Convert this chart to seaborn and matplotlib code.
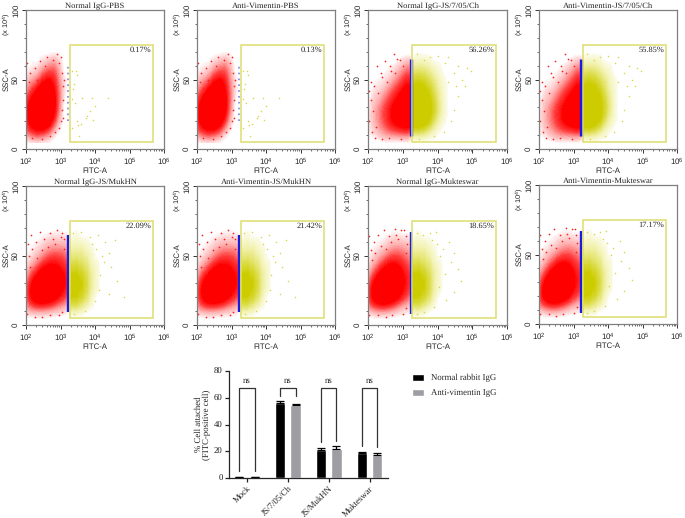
import numpy as np
import pandas as pd
import seaborn as sns
import matplotlib.pyplot as plt
from matplotlib.colors import LinearSegmentedColormap, BoundaryNorm
from matplotlib.contour import ContourSet
from matplotlib.patches import Rectangle
from matplotlib.ticker import FixedLocator, FixedFormatter, LogLocator, NullFormatter

W, H = 685, 518

titles = ['Normal IgG-PBS', 'Anti-Vimentin-PBS', 'Normal IgG-JS/7/05/Ch', 'Anti-Vimentin-JS/7/05/Ch',
          'Normal IgG-JS/MukHN', 'Anti-Vimentin-JS/MukHN', 'Normal IgG-Mukteswar', 'Anti-Vimentin-Mukteswar']
percents = ['0.17%', '0.13%', '56.26%', '55.85%', '22.09%', '21.42%', '18.65%', '17.17%']
groups = ['pbs', 'pbs', 'js7', 'js7', 'muk', 'muk', 'mukt', 'mukt']

ssc_rows = [10, 15, 20, 25, 30, 35, 40, 45, 50, 55, 60, 65]
red_cols = [2.05, 2.2, 2.35, 2.5, 2.65, 2.8, 2.95, 3.1, 3.2]
yellow_cols = [3.3, 3.45, 3.6, 3.75, 3.9, 4.05, 4.2, 4.35, 4.5]

red_pbs = [[3, 4, 5, 4, 3, 1, 0, 0, 0],
           [6, 9, 11, 10, 7, 3, 1, 0, 0],
           [9, 14, 20, 22, 15, 7, 2, 0, 0],
           [10, 16, 26, 30, 22, 10, 3, 0, 0],
           [10, 16, 26, 32, 26, 12, 4, 0, 0],
           [8, 12, 20, 26, 24, 12, 4, 0, 0],
           [5, 8, 13, 19, 20, 11, 4, 1, 0],
           [3, 5, 8, 12, 14, 9, 4, 1, 0],
           [2, 3, 4, 8, 10, 8, 3, 1, 0],
           [1, 1, 2, 4, 6, 6, 3, 0, 0],
           [0, 1, 1, 2, 3, 4, 2, 0, 0],
           [0, 0, 0, 1, 1, 2, 1, 0, 0]]
red_js7 = [[1, 1, 2, 3, 3, 3, 3, 3, 2],
           [1, 2, 4, 6, 9, 11, 13, 13, 10],
           [1, 3, 5, 9, 14, 20, 26, 28, 22],
           [1, 3, 6, 10, 16, 24, 32, 36, 30],
           [1, 3, 5, 9, 14, 22, 30, 36, 30],
           [1, 2, 3, 6, 10, 16, 24, 30, 26],
           [0, 2, 2, 4, 7, 11, 17, 22, 20],
           [0, 1, 1, 2, 4, 7, 11, 15, 14],
           [0, 1, 1, 1, 2, 4, 7, 10, 10],
           [0, 0, 0, 1, 1, 2, 4, 6, 6],
           [0, 0, 0, 0, 1, 1, 2, 3, 3],
           [0, 0, 0, 0, 0, 0, 1, 1, 1]]
red_muk = [[3, 4, 4, 4, 4, 3, 3, 2, 1],
           [7, 10, 12, 12, 11, 9, 7, 5, 3],
           [10, 16, 22, 24, 22, 18, 13, 9, 6],
           [10, 18, 26, 30, 28, 24, 18, 12, 8],
           [9, 15, 22, 28, 28, 24, 19, 13, 9],
           [6, 11, 16, 22, 24, 22, 18, 13, 9],
           [4, 7, 10, 15, 18, 18, 15, 11, 8],
           [2, 4, 6, 9, 12, 13, 12, 9, 6],
           [1, 2, 4, 6, 8, 9, 9, 7, 5],
           [1, 1, 2, 3, 5, 6, 6, 5, 3],
           [0, 1, 1, 2, 3, 3, 3, 3, 2],
           [0, 0, 0, 1, 1, 2, 2, 1, 1]]
red_mukt = [[3, 4, 5, 5, 4, 3, 2, 2, 1],
            [8, 11, 13, 13, 11, 9, 6, 4, 2],
            [11, 18, 24, 26, 22, 17, 12, 8, 5],
            [11, 20, 28, 32, 29, 23, 16, 10, 7],
            [9, 16, 24, 30, 29, 24, 17, 11, 8],
            [6, 11, 17, 24, 25, 22, 16, 11, 8],
            [4, 7, 11, 16, 19, 18, 14, 9, 7],
            [2, 4, 7, 10, 13, 13, 11, 8, 5],
            [1, 3, 4, 6, 8, 9, 8, 6, 4],
            [1, 1, 2, 3, 5, 6, 6, 4, 3],
            [0, 1, 1, 2, 3, 3, 3, 2, 2],
            [0, 0, 0, 1, 1, 2, 1, 1, 1]]
yellow_js7 = [[2, 2, 2, 1, 1, 0, 0, 0, 0],
              [10, 10, 8, 5, 2, 1, 0, 0, 0],
              [24, 24, 20, 12, 5, 2, 1, 0, 0],
              [34, 34, 28, 17, 8, 3, 1, 0, 0],
              [34, 34, 28, 18, 9, 4, 1, 0, 0],
              [28, 28, 24, 15, 8, 3, 1, 0, 0],
              [20, 22, 18, 12, 6, 3, 1, 0, 0],
              [14, 15, 13, 9, 5, 2, 1, 0, 0],
              [9, 10, 9, 6, 4, 2, 1, 0, 0],
              [5, 6, 5, 4, 2, 1, 0, 0, 0],
              [3, 3, 3, 2, 1, 1, 0, 0, 0],
              [1, 1, 1, 1, 0, 0, 0, 0, 0]]
yellow_muk = [[1, 1, 1, 0, 0, 0, 0, 0, 0],
              [5, 5, 3, 2, 1, 0, 0, 0, 0],
              [11, 10, 7, 4, 1, 0, 0, 0, 0],
              [16, 14, 10, 5, 2, 1, 0, 0, 0],
              [16, 15, 11, 6, 2, 1, 0, 0, 0],
              [12, 12, 9, 5, 2, 1, 0, 0, 0],
              [8, 8, 6, 4, 2, 1, 0, 0, 0],
              [5, 5, 4, 3, 1, 1, 0, 0, 0],
              [3, 3, 3, 2, 1, 0, 0, 0, 0],
              [2, 2, 2, 1, 1, 0, 0, 0, 0],
              [1, 1, 1, 1, 0, 0, 0, 0, 0],
              [0, 1, 0, 0, 0, 0, 0, 0, 0]]
red_grids = {'pbs': red_pbs, 'js7': red_js7, 'muk': red_muk, 'mukt': red_mukt}
yellow_grids = {'js7': yellow_js7, 'muk': yellow_muk, 'mukt': yellow_muk}

# stray dots around the clouds, (FITC, SSC)
red_stray = {
    'pbs': [(110, 62), (130, 55), (180, 58), (120, 48), (260, 63), (400, 66), (800, 68), (1000, 66), (900, 62),
            (1100, 55), (1200, 45), (1150, 35), (1100, 28), (900, 15), (700, 12), (150, 8), (300, 7), (500, 9),
            (150, 43), (210, 50), (1050, 20), (350, 60), (600, 64), (1250, 50), (1200, 22)],
    'js7': [(120, 48), (150, 45), (180, 60), (230, 55), (300, 63), (420, 60), (560, 68), (700, 65), (125, 35),
            (110, 20), (130, 12), (160, 8), (250, 7), (400, 8), (900, 7), (200, 40), (260, 52), (350, 48),
            (1000, 60), (600, 55), (140, 27), (110, 42), (170, 16), (850, 64), (450, 56)],
    'muk': [(115, 58), (140, 65), (190, 60), (260, 67), (340, 62), (500, 66), (800, 68), (1100, 66), (120, 50),
            (150, 55), (210, 48), (110, 8), (180, 6), (300, 6), (500, 7), (900, 7), (1100, 9), (1300, 62),
            (700, 58), (130, 42), (420, 56), (1000, 63), (300, 54), (600, 62), (1250, 55)],
    'mukt': [(110, 64), (150, 60), (190, 65), (280, 68), (400, 64), (600, 69), (900, 68), (1200, 64), (120, 54),
             (160, 52), (230, 57), (110, 7), (190, 7), (320, 6), (500, 7), (1000, 8), (1250, 12), (1300, 58),
             (750, 62), (130, 47), (450, 60), (1100, 68), (320, 55), (650, 65), (1200, 52)],
}
yellow_stray = {
    'pbs': [(2200, 56), (2800, 56), (3100, 53), (2500, 47), (2300, 43), (4200, 37), (8000, 37), (24000, 37),
            (2600, 33), (10000, 31), (2100, 36), (7000, 27), (6000, 24), (5500, 22), (8500, 21), (3100, 20),
            (3800, 18), (3200, 17), (2200, 15), (3500, 9)],
    'js7': [(2500, 68), (6000, 66), (10000, 67), (20000, 66), (40000, 60), (70000, 58), (50000, 50), (30000, 55),
            (60000, 45), (40000, 38), (30000, 28), (90000, 56), (25000, 20), (15000, 12), (8000, 9), (3000, 7),
            (16000, 62), (35000, 45), (20000, 48), (4000, 64)],
    'muk': [(2300, 66), (4000, 67), (7000, 63), (12000, 65), (20000, 60), (38000, 61), (26000, 52), (18000, 45),
            (30000, 42), (14000, 36), (42000, 32), (70000, 20), (25000, 22), (10000, 17), (5000, 10), (2500, 8),
            (11000, 55), (16000, 50), (8000, 58), (13000, 25)],
    'mukt': [(2500, 66), (3800, 65), (6000, 66), (9000, 67), (22000, 60), (14000, 55), (30000, 52), (24000, 45),
             (40000, 40), (16000, 37), (48000, 32), (30000, 24), (18000, 18), (8000, 13), (4000, 9), (2500, 8),
             (9500, 58), (12000, 50), (7000, 61), (11000, 27)],
}
blue_low = {'pbs': 20, 'js7': 9, 'muk': 9, 'mukt': 8}
blue_high = {'pbs': 60, 'js7': 65, 'muk': 65, 'mukt': 67}

bar_groups = ['Mock', 'JS/7/05/Ch', 'JS/MukHN', 'Mukteswar']
rabbit_mean = [0.4, 56, 21, 18.5]
rabbit_err = [0.2, 1.4, 1.5, 1.3]
vimentin_mean = [0.4, 54.5, 21.5, 17.5]
vimentin_err = [0.2, 1.2, 2.2, 1.0]
leg_bottom_left = [5, 61, 27, 24]
leg_bottom_right = [5, 61, 28, 23]
bracket_top = 67.5

sns.set_theme(style='ticks')
plt.rcParams['font.family'] = 'Liberation Sans'
plt.rcParams['mathtext.fontset'] = 'custom'
plt.rcParams['mathtext.rm'] = 'Liberation Sans'
plt.rcParams['mathtext.default'] = 'rm'
plt.rcParams['text.hinting'] = 'no_hinting'

SPINE = '#7f7f7f'
GATE = '#dede6e'
red_map = LinearSegmentedColormap.from_list('red_dots', ['#fff2f2', '#ffa8a8', '#ff4040', '#ff0000'])
yellow_map = LinearSegmentedColormap.from_list('yellow_dots', ['#fcfcee', '#f0f0a8', '#dcdc48', '#cccc00'])


def iso_levels(low, high):
    # many thin bands so the cloud edge fades without steps
    return list(np.linspace(low ** 0.5, high ** 0.5, 22) ** 2) + [1]


red_levels = {'pbs': iso_levels(0.006, 0.33), 'js7': iso_levels(0.008, 0.45),
              'muk': iso_levels(0.008, 0.45), 'mukt': iso_levels(0.008, 0.45)}
yellow_levels = {'js7': iso_levels(0.006, 0.36), 'muk': iso_levels(0.012, 0.7), 'mukt': iso_levels(0.012, 0.7)}


def pixel_axes(fig, left, top, right, bottom):
    return fig.add_axes([left / W, 1 - bottom / H, (right - left) / W, (bottom - top) / H])


def grid_frame(grid, cols):
    df = pd.DataFrame(grid, index=ssc_rows, columns=cols).stack().reset_index()
    df.columns = ['ssc', 'fitc', 'w']
    df['fitc'] = 10 ** df['fitc']
    return df[df['w'] > 0]


def recolour_last_contour(ax, cmap):
    # seaborn colours bands by density value, here they go evenly by band instead
    cs = [c for c in ax.collections if isinstance(c, ContourSet)][-1]
    cs.set_cmap(cmap)
    cs.set_norm(BoundaryNorm(cs.levels, ncolors=cmap.N))
    cs.set_edgecolor('face')
    cs.set_linewidth(0.2)


def draw_flow_panel(fig, box, idx):
    group = groups[idx]
    ax = pixel_axes(fig, *box)

    red_df = grid_frame(red_grids[group], red_cols)
    sns.kdeplot(data=red_df, x='fitc', y='ssc', weights='w', log_scale=(True, False), fill=True, ax=ax,
                cmap=red_map, levels=red_levels[group], bw_adjust=0.62, gridsize=120,
                clip=((2.0, 3.22), (5, 72)))
    recolour_last_contour(ax, red_map)
    if group in yellow_grids:
        yellow_df = grid_frame(yellow_grids[group], yellow_cols)
        sns.kdeplot(data=yellow_df, x='fitc', y='ssc', weights='w', fill=True, ax=ax,
                    cmap=yellow_map, levels=yellow_levels[group], bw_adjust=0.62, gridsize=120,
                    clip=((3.27, 5.0), (5, 72)))
        recolour_last_contour(ax, yellow_map)

    rx, ry = zip(*red_stray[group])
    sns.scatterplot(x=rx, y=ry, s=1.5, color='#ff2020', linewidth=0, ax=ax)
    yx, yy = zip(*yellow_stray[group])
    sns.scatterplot(x=yx, y=yy, s=1.2, color='#d8d840', linewidth=0, ax=ax)

    blue_y = [blue_low[group], blue_high[group]]
    if group == 'pbs':
        ax.plot([1600, 1600], blue_y, color='#8080f0', lw=1.2, ls=(0, (1, 2.5)))
    else:
        ax.plot([1680, 1680], blue_y, color='#1a1ae6', lw=2.4 if group == 'js7' else 1.7, solid_capstyle='butt')

    # gate
    ax.add_patch(Rectangle((1900, 5), 10 ** 5.67 - 1900, 70, fill=False, ec=GATE, lw=1.1, zorder=3))
    ax.text(10 ** 5.63, 71, percents[idx], family='Liberation Serif', fontsize=6, color='#222222',
            ha='right', va='center')

    ax.set_xscale('log')
    ax.set_xlim(100, 1e6)
    ax.set_ylim(0, 100)
    ax.xaxis.set_major_locator(FixedLocator([1e2, 1e3, 1e4, 1e5, 1e6]))
    ax.xaxis.set_major_formatter(FixedFormatter([r'$10^{%d}$' % e for e in [2, 3, 4, 5, 6]]))
    ax.xaxis.set_minor_locator(LogLocator(base=10, subs=np.arange(2, 10), numticks=10))
    ax.xaxis.set_minor_formatter(NullFormatter())
    ax.set_yticks([0, 50, 100])
    ax.set_yticks(np.arange(0, 101, 10), minor=True)
    ax.set_yticklabels(['0', '50', '100'], rotation=90, va='center')
    ax.tick_params(which='major', length=3, width=0.7, labelsize=5.8, pad=1.5, color='#333333', labelcolor='#222222')
    ax.tick_params(which='minor', length=1.5, width=0.5, color='#333333')
    for side in ax.spines:
        ax.spines[side].set_visible(True)
        ax.spines[side].set_color(SPINE)
        ax.spines[side].set_linewidth(0.9)
    ax.set_xlabel('FITC-A', fontsize=5.6, labelpad=0, color='#222222')
    ax.set_ylabel('SSC-A', fontsize=5.6, color='#222222')
    ax.yaxis.set_label_coords(-0.115, 0.5)
    ax.set_title(titles[idx], family='Liberation Serif', fontsize=6.1, pad=1.5, color='#222222')
    ax.text(-0.14, 0.9, r'(x $10^{4}$)', transform=ax.transAxes, rotation=90, fontsize=5.4,
            ha='center', va='center', color='#222222')


fig = plt.figure(figsize=(W / 100, H / 100), dpi=100)

columns_px = [(26, 164), (197, 335), (368, 507), (539, 677)]
boxes = [(l, 10, r, 149) for l, r in columns_px] + [(l, 186, r, 325) for l, r in columns_px]
boxes[7] = (539, 185, 677, 324)
for i, b in enumerate(boxes):
    draw_flow_panel(fig, b, i)

# bar panel
ax = pixel_axes(fig, 229, 371, 388, 478)
bars = pd.DataFrame({
    'group': bar_groups * 2,
    'value': rabbit_mean + vimentin_mean,
    'serum': ['Normal rabbit IgG'] * 4 + ['Anti-vimentin IgG'] * 4,
})
sns.barplot(data=bars, x='group', y='value', hue='serum', palette=['black', '#9d9da3'], width=0.75, gap=0.33,
            errorbar=None, saturation=1, ax=ax)
offset = 0.1875
for sign, means, errs in [(-1, rabbit_mean, rabbit_err), (1, vimentin_mean, vimentin_err)]:
    xs = np.arange(4) + sign * offset
    ax.errorbar(xs, means, yerr=[np.zeros(4), errs], fmt='none', ecolor='black', elinewidth=0.9, capsize=2.6,
                capthick=0.9)
for i in range(4):
    xl, xr = i - offset, i + offset
    ax.plot([xl, xl, xr, xr], [leg_bottom_left[i], bracket_top, bracket_top, leg_bottom_right[i]],
            color='#333333', lw=0.9)
    ax.text(i, bracket_top + 2.5, 'ns', family='Liberation Serif', fontsize=6.3, ha='center', va='bottom',
            color='#222222')

ax.set_xlim(-0.44, 3.45)
ax.set_ylim(0, 80)
ax.set_yticks([0, 20, 40, 60, 80])
ax.set_xlabel('')
ax.set_ylabel('% Cell attached\n(FITC-positive cell)', family='Liberation Serif', fontsize=6.3, labelpad=2,
              color='#222222', linespacing=1.1)
ax.tick_params(length=3, width=0.9, labelsize=6.3, pad=1.5, color='#222222', labelcolor='#222222')
for lab in ax.get_yticklabels():
    lab.set_family('Liberation Serif')
for lab in ax.get_xticklabels():
    lab.set_family('Liberation Serif')
    lab.set_rotation(45)
    lab.set_ha('right')
    lab.set_rotation_mode('anchor')
ax.spines['left'].set_linewidth(0.9)
ax.spines['bottom'].set_linewidth(0.9)
sns.despine(ax=ax)
ax.legend(loc='upper left', bbox_to_anchor=(1.15, 0.975), frameon=False, title=None,
          prop={'family': 'Liberation Serif', 'size': 6.3}, handlelength=1.4, handleheight=0.85,
          handletextpad=0.75, labelspacing=0.75, borderaxespad=0, borderpad=0)

fig.savefig('out.png', dpi=100)
